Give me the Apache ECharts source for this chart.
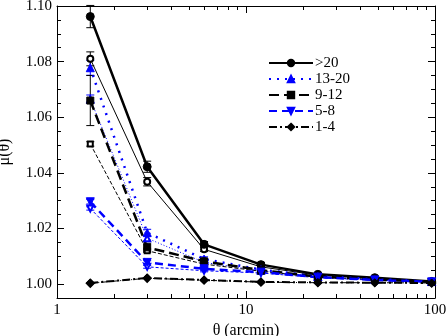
<!DOCTYPE html>
<html>
<head>
<meta charset="utf-8">
<script src="https://cdn.jsdelivr.net/npm/echarts@6/dist/echarts.min.js"></script>
<style>
  html, body { margin: 0; padding: 0; background: #fff; }
  #chart { width: 447px; height: 336px; }
</style>
</head>
<body>
<div id="chart"></div>
<script>
// theta (arcmin)
var theta = [1.5, 3, 6, 12, 24, 48, 96];

// filled symbols (thick lines)
var gt20 = [1.0962, 1.0422, 1.0143, 1.0070, 1.0035, 1.0023, 1.0009];
var gt20Err = [0.0040, 0.0020, 0.0010, 0.0008, 0.0005, 0.0004, 0.0003];
var r13to20 = [1.0778, 1.0185, 1.0090, 1.0052, 1.0028, 1.0018, 1.0009];
var r13to20Err = [0.0027, 0.0012, 0.0008, 0.0006, 0.0004, 0.0003, 0.0002];
var r9to12 = [1.0660, 1.0132, 1.0082, 1.0050, 1.0027, 1.0017, 1.0008];
var r9to12Err = [0.0090, 0.0015, 0.0008, 0.0006, 0.0004, 0.0003, 0.0002];
var r5to8 = [1.0296, 1.0078, 1.0055, 1.0043, 1.0025, 1.0015, 1.0008];
var r5to8Err = [0.0008, 0.0006, 0.0005, 0.0004, 0.0003, 0.0002, 0.0002];
var r1to4 = [1.0004, 1.0022, 1.0015, 1.0008, 1.0006, 1.0005, 1.0004];

// open symbols (thin lines)
var gt20Open = [1.0810, 1.0368, 1.0125, 1.0062, 1.0032, 1.0020, 1.0008];
var gt20OpenErr = [0.0025, 0.0015, 0.0008, 0.0006, 0.0004, 0.0003, 0.0002];
var r13to20Open = [1.0665, 1.0165, 1.0078, 1.0048, 1.0026, 1.0016, 1.0008];
var r13to20OpenErr = [0.0015, 0.0010, 0.0006, 0.0004, 0.0003, 0.0002, 0.0002];
var r9to12Open = [1.0504, 1.0120, 1.0072, 1.0046, 1.0025, 1.0016, 1.0008];
var r9to12OpenErr = [0.0008, 0.0006, 0.0005, 0.0004, 0.0003, 0.0002, 0.0002];
var r5to8Open = [1.0272, 1.0062, 1.0048, 1.0040, 1.0023, 1.0014, 1.0007];
var r5to8OpenErr = [0.0006, 0.0005, 0.0004, 0.0003, 0.0002, 0.0002, 0.0002];
var r1to4Open = [1.0003, 1.0021, 1.0014, 1.0007, 1.0005, 1.0005, 1.0004];

// tick values
var xMajor = [1, 10, 100];
var xMinor = [2, 3, 4, 5, 6, 7, 8, 9, 20, 30, 40, 50, 60, 70, 80, 90];
var yMajor = [1.00, 1.02, 1.04, 1.06, 1.08, 1.10];
var yMinor = [0.995, 1.005, 1.01, 1.015, 1.025, 1.03, 1.035, 1.045, 1.05, 1.055,
  1.065, 1.07, 1.075, 1.085, 1.09, 1.095];

var serif = "Liberation Serif";
var blue = "#0000ff";

function pts(vals) {
  return theta.map(function (x, i) { return [x, vals[i]]; });
}
function errPts(vals, errs) {
  return theta.map(function (x, i) { return [x, vals[i], errs[i]]; });
}

function errBars(vals, errs, color, width) {
  return {
    type: "custom",
    silent: true,
    z: 1,
    data: errPts(vals, errs),
    encode: { x: 0, y: 1 },
    renderItem: function (params, api) {
      var x = api.value(0), y = api.value(1), e = api.value(2);
      var lo = api.coord([x, y - e]);
      var hi = api.coord([x, y + e]);
      var w = 4;
      var st = { stroke: color, lineWidth: width };
      return {
        type: "group",
        children: [
          { type: "line", shape: { x1: lo[0], y1: lo[1], x2: hi[0], y2: hi[1] }, style: st },
          { type: "line", shape: { x1: lo[0] - w, y1: lo[1], x2: lo[0] + w, y2: lo[1] }, style: st },
          { type: "line", shape: { x1: hi[0] - w, y1: hi[1], x2: hi[0] + w, y2: hi[1] }, style: st }
        ]
      };
    }
  };
}

// x ticks on the log axis (top and bottom, pointing inwards)
function xTicks() {
  var data = xMajor.map(function (v) { return [v, 1.0, 7]; })
    .concat(xMinor.map(function (v) { return [v, 1.0, 4]; }));
  return {
    type: "custom",
    silent: true,
    z: 5,
    data: data,
    encode: { x: 0, y: 1 },
    clip: false,
    renderItem: function (params, api) {
      var p = api.coord([api.value(0), api.value(1)]);
      var len = api.value(2);
      var cs = params.coordSys;
      var bot = cs.y + cs.height, top = cs.y;
      var st = { stroke: "#000", lineWidth: 1 };
      var x = Math.round(p[0]) + 0.5;
      return {
        type: "group",
        children: [
          { type: "line", shape: { x1: x, y1: bot, x2: x, y2: bot - len }, style: st },
          { type: "line", shape: { x1: x, y1: top, x2: x, y2: top + len }, style: st }
        ]
      };
    }
  };
}

function lineSeries(name, vals, color, width, dash, symbol, size, rotate) {
  return {
    name: name,
    type: "line",
    data: pts(vals),
    symbol: symbol,
    symbolSize: size,
    symbolRotate: rotate || 0,
    z: 3,
    itemStyle: { color: color, borderColor: color, borderWidth: 1 },
    lineStyle: { color: color, width: width, type: dash },
    emphasis: { disabled: true }
  };
}

function yAx(pos, ticks, len, show) {
  return {
    type: "value",
    min: 0.995,
    max: 1.10,
    position: pos,
    axisLine: { show: show, lineStyle: { color: "#000", width: 1 } },
    axisTick: { show: true, inside: true, length: len, customValues: ticks,
      lineStyle: { color: "#000", width: 1 } },
    axisLabel: { show: false },
    splitLine: { show: false }
  };
}

var xAxes = [
  {
    type: "log", logBase: 10, min: 1, max: 100, position: "bottom",
    axisLine: { lineStyle: { color: "#000", width: 1 } },
    axisTick: { show: false },
    axisLabel: { color: "#000", fontFamily: serif, fontSize: 15, margin: 5 },
    splitLine: { show: false },
    name: "θ (arcmin)",
    nameLocation: "middle",
    nameGap: 19,
    nameTextStyle: { color: "#000", fontFamily: serif, fontSize: 16 }
  },
  {
    type: "log", logBase: 10, min: 1, max: 100, position: "top",
    axisLine: { lineStyle: { color: "#000", width: 1 } },
    axisTick: { show: false },
    axisLabel: { show: false },
    splitLine: { show: false }
  }
];

var yAxes = [
  yAx("left", yMajor, 7, true),
  yAx("left", yMinor, 4, false),
  yAx("right", yMajor, 7, true),
  yAx("right", yMinor, 4, false)
];
yAxes[0].axisLabel = { show: true, customValues: yMajor, color: "#000",
  fontFamily: serif, fontSize: 15, margin: 5,
  formatter: function (v) { return v.toFixed(2); } };
yAxes[0].name = "μ(θ)";
yAxes[0].nameLocation = "middle";
yAxes[0].nameGap = 44;
yAxes[0].nameTextStyle = { color: "#000", fontFamily: serif, fontSize: 16 };

var chart = echarts.init(document.getElementById("chart"), null, { renderer: "canvas" });
chart.setOption({
  animation: false,
  backgroundColor: "#fff",
  grid: { left: 57, right: 12, top: 6, bottom: 38, containLabel: false, outerBoundsMode: "none" },
  xAxis: xAxes,
  yAxis: yAxes,
  legend: {
    data: [">20", "13-20", "9-12", "5-8", "1-4"],
    orient: "vertical",
    left: 263,
    top: 50,
    itemWidth: 44,
    itemHeight: 8,
    itemGap: 0,
    textStyle: { color: "#000", fontFamily: serif, fontSize: 15, lineHeight: 16, padding: [0, 0, 0, -3] }
  },
  series: [
    errBars(gt20, gt20Err, "#000", 1),
    errBars(r13to20, r13to20Err, blue, 1),
    errBars(r9to12, r9to12Err, "#000", 1),
    errBars(r5to8, r5to8Err, blue, 1),
    errBars(gt20Open, gt20OpenErr, "#000", 1),
    errBars(r13to20Open, r13to20OpenErr, blue, 1),
    errBars(r9to12Open, r9to12OpenErr, "#000", 1),
    errBars(r5to8Open, r5to8OpenErr, blue, 1),
    xTicks(),
    lineSeries("gt20o", gt20Open, "#000", 1, "solid", "emptyCircle", 6),
    lineSeries("13-20o", r13to20Open, blue, 1, [1, 2], "emptyTriangle", 6),
    lineSeries("9-12o", r9to12Open, "#000", 1, [4, 2], "emptyRect", 5),
    lineSeries("5-8o", r5to8Open, blue, 1, [3, 2], "emptyTriangle", 6, 180),
    lineSeries("1-4o", r1to4Open, "#000", 1, [6, 2, 1, 2], "emptyDiamond", 7),
    lineSeries(">20", gt20, "#000", 2.5, "solid", "circle", 8),
    lineSeries("13-20", r13to20, blue, 2.5, [2, 6], "triangle", 8),
    lineSeries("9-12", r9to12, "#000", 2.5, [10, 5], "rect", 7),
    lineSeries("5-8", r5to8, blue, 2.5, [8, 5], "triangle", 8, 180),
    lineSeries("1-4", r1to4, "#000", 2, [8, 3, 2, 3], "diamond", 8)
  ]
});
</script>
</body>
</html>
